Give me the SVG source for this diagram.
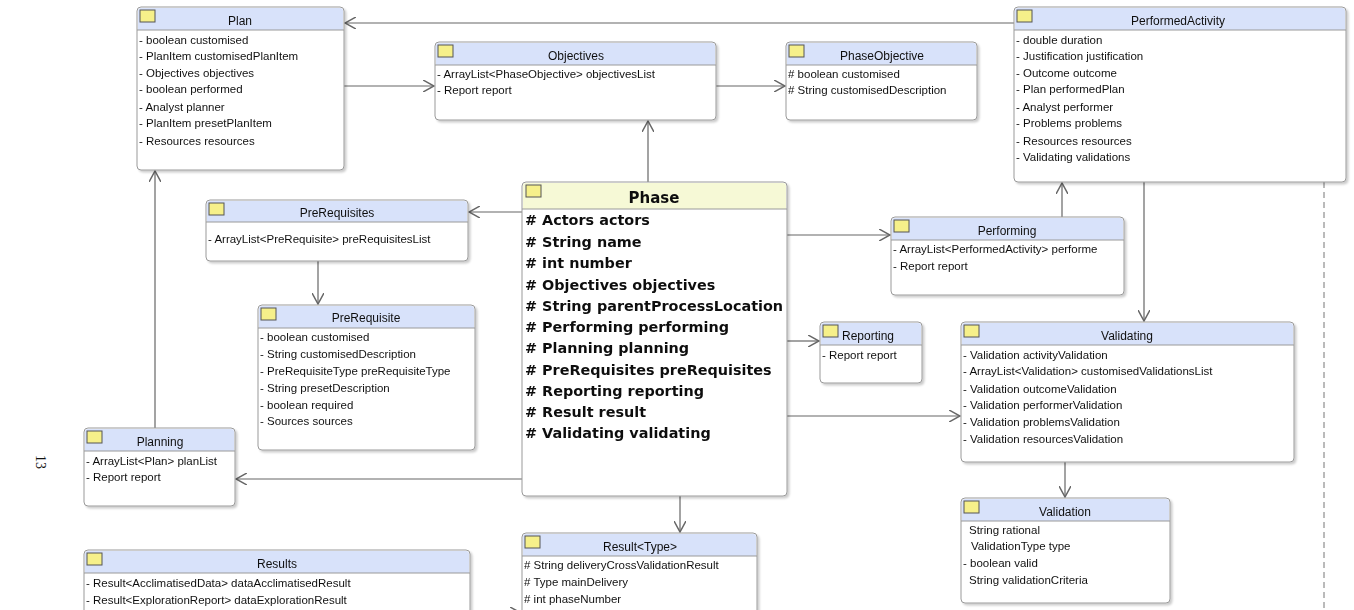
<svg xmlns="http://www.w3.org/2000/svg" width="1354" height="610" viewBox="0 0 1354 610">
<style>
.box{fill:#fff;stroke:#9a9a9a;stroke-width:1}
.hd{fill:#d8e2fa}
.hdp{fill:#f6f9d6}
.ic{fill:#f6f08a;stroke:#555;stroke-width:1}
text{font-family:"Liberation Sans",Arial,sans-serif;font-size:11.5px;fill:#111}
.t{text-anchor:middle;font-size:12px}
.b{font-family:"DejaVu Sans",sans-serif;font-weight:bold;font-size:14.4px}
.c{fill:none;stroke:#666;stroke-width:1.2}
</style>
<defs>
<marker id="a" viewBox="0 0 12 12" refX="11" refY="6" markerWidth="12" markerHeight="12" orient="auto" markerUnits="userSpaceOnUse"><path d="M0,0 L11,6 L0,12" fill="none" stroke="#666" stroke-width="1.5"/></marker>
<filter id="s" x="-5%" y="-5%" width="110%" height="115%"><feDropShadow dx="2" dy="2" stdDeviation="1.2" flood-color="#000" flood-opacity="0.2"/></filter>
</defs>
<text x="36" y="455" transform="rotate(90 36 455)" style="font-family:'Liberation Serif',serif;font-size:14px">13</text>
<line x1="1324" y1="182" x2="1324" y2="610" stroke="#777" stroke-dasharray="6,4"/>
<g id="connectors">
<path class="c" d="M1014,23 H345" marker-end="url(#a)"/>
<path class="c" d="M344,86 H434" marker-end="url(#a)"/>
<path class="c" d="M716,86 H785" marker-end="url(#a)"/>
<path class="c" d="M648,182 V121" marker-end="url(#a)"/>
<path class="c" d="M522,212 H469" marker-end="url(#a)"/>
<path class="c" d="M318,261 V304" marker-end="url(#a)"/>
<path class="c" d="M787,235 H890" marker-end="url(#a)"/>
<path class="c" d="M1062,217 V183" marker-end="url(#a)"/>
<path class="c" d="M1144,182 V321" marker-end="url(#a)"/>
<path class="c" d="M787,341 H819" marker-end="url(#a)"/>
<path class="c" d="M787,416 H960" marker-end="url(#a)"/>
<path class="c" d="M1065,462 V497" marker-end="url(#a)"/>
<path class="c" d="M522,479 H236" marker-end="url(#a)"/>
<path class="c" d="M155,428 V171" marker-end="url(#a)"/>
<path class="c" d="M680,496 V532" marker-end="url(#a)"/>
<path class="c" d="M470,613 H521" marker-end="url(#a)"/>
</g>
<g id="Plan" filter="url(#s)">
<rect class="box" x="137" y="7" width="207" height="163" rx="4"/>
<path class="hd" d="M138,30 V11 Q138,8 141,8 H340 Q343,8 343,11 V30Z"/><line x1="137" y1="30" x2="344" y2="30" stroke="#9a9a9a"/>
<rect class="ic" x="140" y="10" width="15" height="12"/>
<text class="t" x="240" y="25">Plan</text>
<text x="139" y="44">- boolean customised</text><text x="139" y="60">- PlanItem customisedPlanItem</text><text x="139" y="77">- Objectives objectives</text><text x="139" y="93">- boolean performed</text><text x="139" y="111">- Analyst planner</text><text x="139" y="127">- PlanItem presetPlanItem</text><text x="139" y="145">- Resources resources</text>
</g>
<g id="Objectives" filter="url(#s)">
<rect class="box" x="435" y="42" width="281" height="78" rx="4"/>
<path class="hd" d="M436,65 V46 Q436,43 439,43 H712 Q715,43 715,46 V65Z"/><line x1="435" y1="65" x2="716" y2="65" stroke="#9a9a9a"/>
<rect class="ic" x="438" y="45" width="15" height="12"/>
<text class="t" x="576" y="60">Objectives</text>
<text x="437" y="78">- ArrayList&lt;PhaseObjective&gt; objectivesList</text><text x="437" y="94">- Report report</text>
</g>
<g id="PhaseObjective" filter="url(#s)">
<rect class="box" x="786" y="42" width="191" height="78" rx="4"/>
<path class="hd" d="M787,65 V46 Q787,43 790,43 H973 Q976,43 976,46 V65Z"/><line x1="786" y1="65" x2="977" y2="65" stroke="#9a9a9a"/>
<rect class="ic" x="789" y="45" width="15" height="12"/>
<text class="t" x="882" y="60">PhaseObjective</text>
<text x="788" y="78"># boolean customised</text><text x="788" y="94"># String customisedDescription</text>
</g>
<g id="PerformedActivity" filter="url(#s)">
<rect class="box" x="1014" y="7" width="332" height="175" rx="4"/>
<path class="hd" d="M1015,30 V11 Q1015,8 1018,8 H1342 Q1345,8 1345,11 V30Z"/><line x1="1014" y1="30" x2="1346" y2="30" stroke="#9a9a9a"/>
<rect class="ic" x="1017" y="10" width="15" height="12"/>
<text class="t" x="1178" y="25">PerformedActivity</text>
<text x="1016" y="44">- double duration</text><text x="1016" y="60">- Justification justification</text><text x="1016" y="77">- Outcome outcome</text><text x="1016" y="93">- Plan performedPlan</text><text x="1016" y="111">- Analyst performer</text><text x="1016" y="127">- Problems problems</text><text x="1016" y="145">- Resources resources</text><text x="1016" y="161">- Validating validations</text>
</g>
<g id="Phase" filter="url(#s)">
<rect class="box" x="522" y="182" width="265" height="314" rx="4"/>
<path class="hdp" d="M523,209 V186 Q523,183 526,183 H783 Q786,183 786,186 V209Z"/><line x1="522" y1="209" x2="787" y2="209" stroke="#9a9a9a"/>
<rect class="ic" x="526" y="185" width="15" height="12"/>
<text class="b" x="654" y="203" style="text-anchor:middle;font-size:15px">Phase</text>
<text class="b" x="525" y="225"># Actors actors</text><text class="b" x="525" y="247"># String name</text><text class="b" x="525" y="268"># int number</text><text class="b" x="525" y="290"># Objectives objectives</text><text class="b" x="525" y="311"># String parentProcessLocation</text><text class="b" x="525" y="332"># Performing performing</text><text class="b" x="525" y="353"># Planning planning</text><text class="b" x="525" y="375"># PreRequisites preRequisites</text><text class="b" x="525" y="396"># Reporting reporting</text><text class="b" x="525" y="417"># Result result</text><text class="b" x="525" y="438"># Validating validating</text>
</g>
<g id="PreRequisites" filter="url(#s)">
<rect class="box" x="206" y="200" width="262" height="61" rx="4"/>
<path class="hd" d="M207,222 V204 Q207,201 210,201 H464 Q467,201 467,204 V222Z"/><line x1="206" y1="222" x2="468" y2="222" stroke="#9a9a9a"/>
<rect class="ic" x="209" y="203" width="15" height="12"/>
<text class="t" x="337" y="217">PreRequisites</text>
<text x="208" y="243">- ArrayList&lt;PreRequisite&gt; preRequisitesList</text>
</g>
<g id="PreRequisite" filter="url(#s)">
<rect class="box" x="258" y="305" width="217" height="145" rx="4"/>
<path class="hd" d="M259,328 V309 Q259,306 262,306 H471 Q474,306 474,309 V328Z"/><line x1="258" y1="328" x2="475" y2="328" stroke="#9a9a9a"/>
<rect class="ic" x="261" y="308" width="15" height="12"/>
<text class="t" x="366" y="322">PreRequisite</text>
<text x="260" y="341">- boolean customised</text><text x="260" y="358">- String customisedDescription</text><text x="260" y="375">- PreRequisiteType preRequisiteType</text><text x="260" y="392">- String presetDescription</text><text x="260" y="409">- boolean required</text><text x="260" y="425">- Sources sources</text>
</g>
<g id="Performing" filter="url(#s)">
<rect class="box" x="891" y="217" width="233" height="78" rx="4"/>
<path class="hd" d="M892,240 V221 Q892,218 895,218 H1120 Q1123,218 1123,221 V240Z"/><line x1="891" y1="240" x2="1124" y2="240" stroke="#9a9a9a"/>
<rect class="ic" x="894" y="220" width="15" height="12"/>
<text class="t" x="1007" y="235">Performing</text>
<text x="893" y="253">- ArrayList&lt;PerformedActivity&gt; performe</text><text x="893" y="270">- Report report</text>
</g>
<g id="Reporting" filter="url(#s)">
<rect class="box" x="820" y="322" width="102" height="61" rx="4"/>
<path class="hd" d="M821,345 V326 Q821,323 824,323 H918 Q921,323 921,326 V345Z"/><line x1="820" y1="345" x2="922" y2="345" stroke="#9a9a9a"/>
<rect class="ic" x="823" y="325" width="15" height="12"/>
<text x="842" y="340" style="font-size:12px">Reporting</text>
<text x="822" y="359">- Report report</text>
</g>
<g id="Validating" filter="url(#s)">
<rect class="box" x="961" y="322" width="333" height="140" rx="4"/>
<path class="hd" d="M962,345 V326 Q962,323 965,323 H1290 Q1293,323 1293,326 V345Z"/><line x1="961" y1="345" x2="1294" y2="345" stroke="#9a9a9a"/>
<rect class="ic" x="964" y="325" width="15" height="12"/>
<text class="t" x="1127" y="340">Validating</text>
<text x="963" y="359">- Validation activityValidation</text><text x="963" y="375">- ArrayList&lt;Validation&gt; customisedValidationsList</text><text x="963" y="393">- Validation outcomeValidation</text><text x="963" y="409">- Validation performerValidation</text><text x="963" y="426">- Validation problemsValidation</text><text x="963" y="443">- Validation resourcesValidation</text>
</g>
<g id="Validation" filter="url(#s)">
<rect class="box" x="961" y="498" width="209" height="105" rx="4"/>
<path class="hd" d="M962,521 V502 Q962,499 965,499 H1166 Q1169,499 1169,502 V521Z"/><line x1="961" y1="521" x2="1170" y2="521" stroke="#9a9a9a"/>
<rect class="ic" x="964" y="501" width="15" height="12"/>
<text class="t" x="1065" y="516">Validation</text>
<text x="969" y="534">String rational</text><text x="971" y="550">ValidationType type</text><text x="963" y="567">- boolean valid</text><text x="969" y="584">String validationCriteria</text>
</g>
<g id="Planning" filter="url(#s)">
<rect class="box" x="84" y="428" width="151" height="78" rx="4"/>
<path class="hd" d="M85,451 V432 Q85,429 88,429 H231 Q234,429 234,432 V451Z"/><line x1="84" y1="451" x2="235" y2="451" stroke="#9a9a9a"/>
<rect class="ic" x="87" y="431" width="15" height="12"/>
<text class="t" x="160" y="446">Planning</text>
<text x="86" y="465">- ArrayList&lt;Plan&gt; planList</text><text x="86" y="481">- Report report</text>
</g>
<g id="Results" filter="url(#s)">
<rect class="box" x="84" y="550" width="386" height="80" rx="4"/>
<path class="hd" d="M85,573 V554 Q85,551 88,551 H466 Q469,551 469,554 V573Z"/><line x1="84" y1="573" x2="470" y2="573" stroke="#9a9a9a"/>
<rect class="ic" x="87" y="553" width="15" height="12"/>
<text class="t" x="277" y="568">Results</text>
<text x="86" y="587">- Result&lt;AcclimatisedData&gt; dataAcclimatisedResult</text><text x="86" y="604">- Result&lt;ExplorationReport&gt; dataExplorationResult</text>
</g>
<g id="ResultType" filter="url(#s)">
<rect class="box" x="522" y="533" width="235" height="100" rx="4"/>
<path class="hd" d="M523,556 V537 Q523,534 526,534 H753 Q756,534 756,537 V556Z"/><line x1="522" y1="556" x2="757" y2="556" stroke="#9a9a9a"/>
<rect class="ic" x="525" y="536" width="15" height="12"/>
<text class="t" x="640" y="551">Result&lt;Type&gt;</text>
<text x="524" y="569"># String deliveryCrossValidationResult</text><text x="524" y="586"># Type mainDelivery</text><text x="524" y="603"># int phaseNumber</text>
</g>
</svg>
